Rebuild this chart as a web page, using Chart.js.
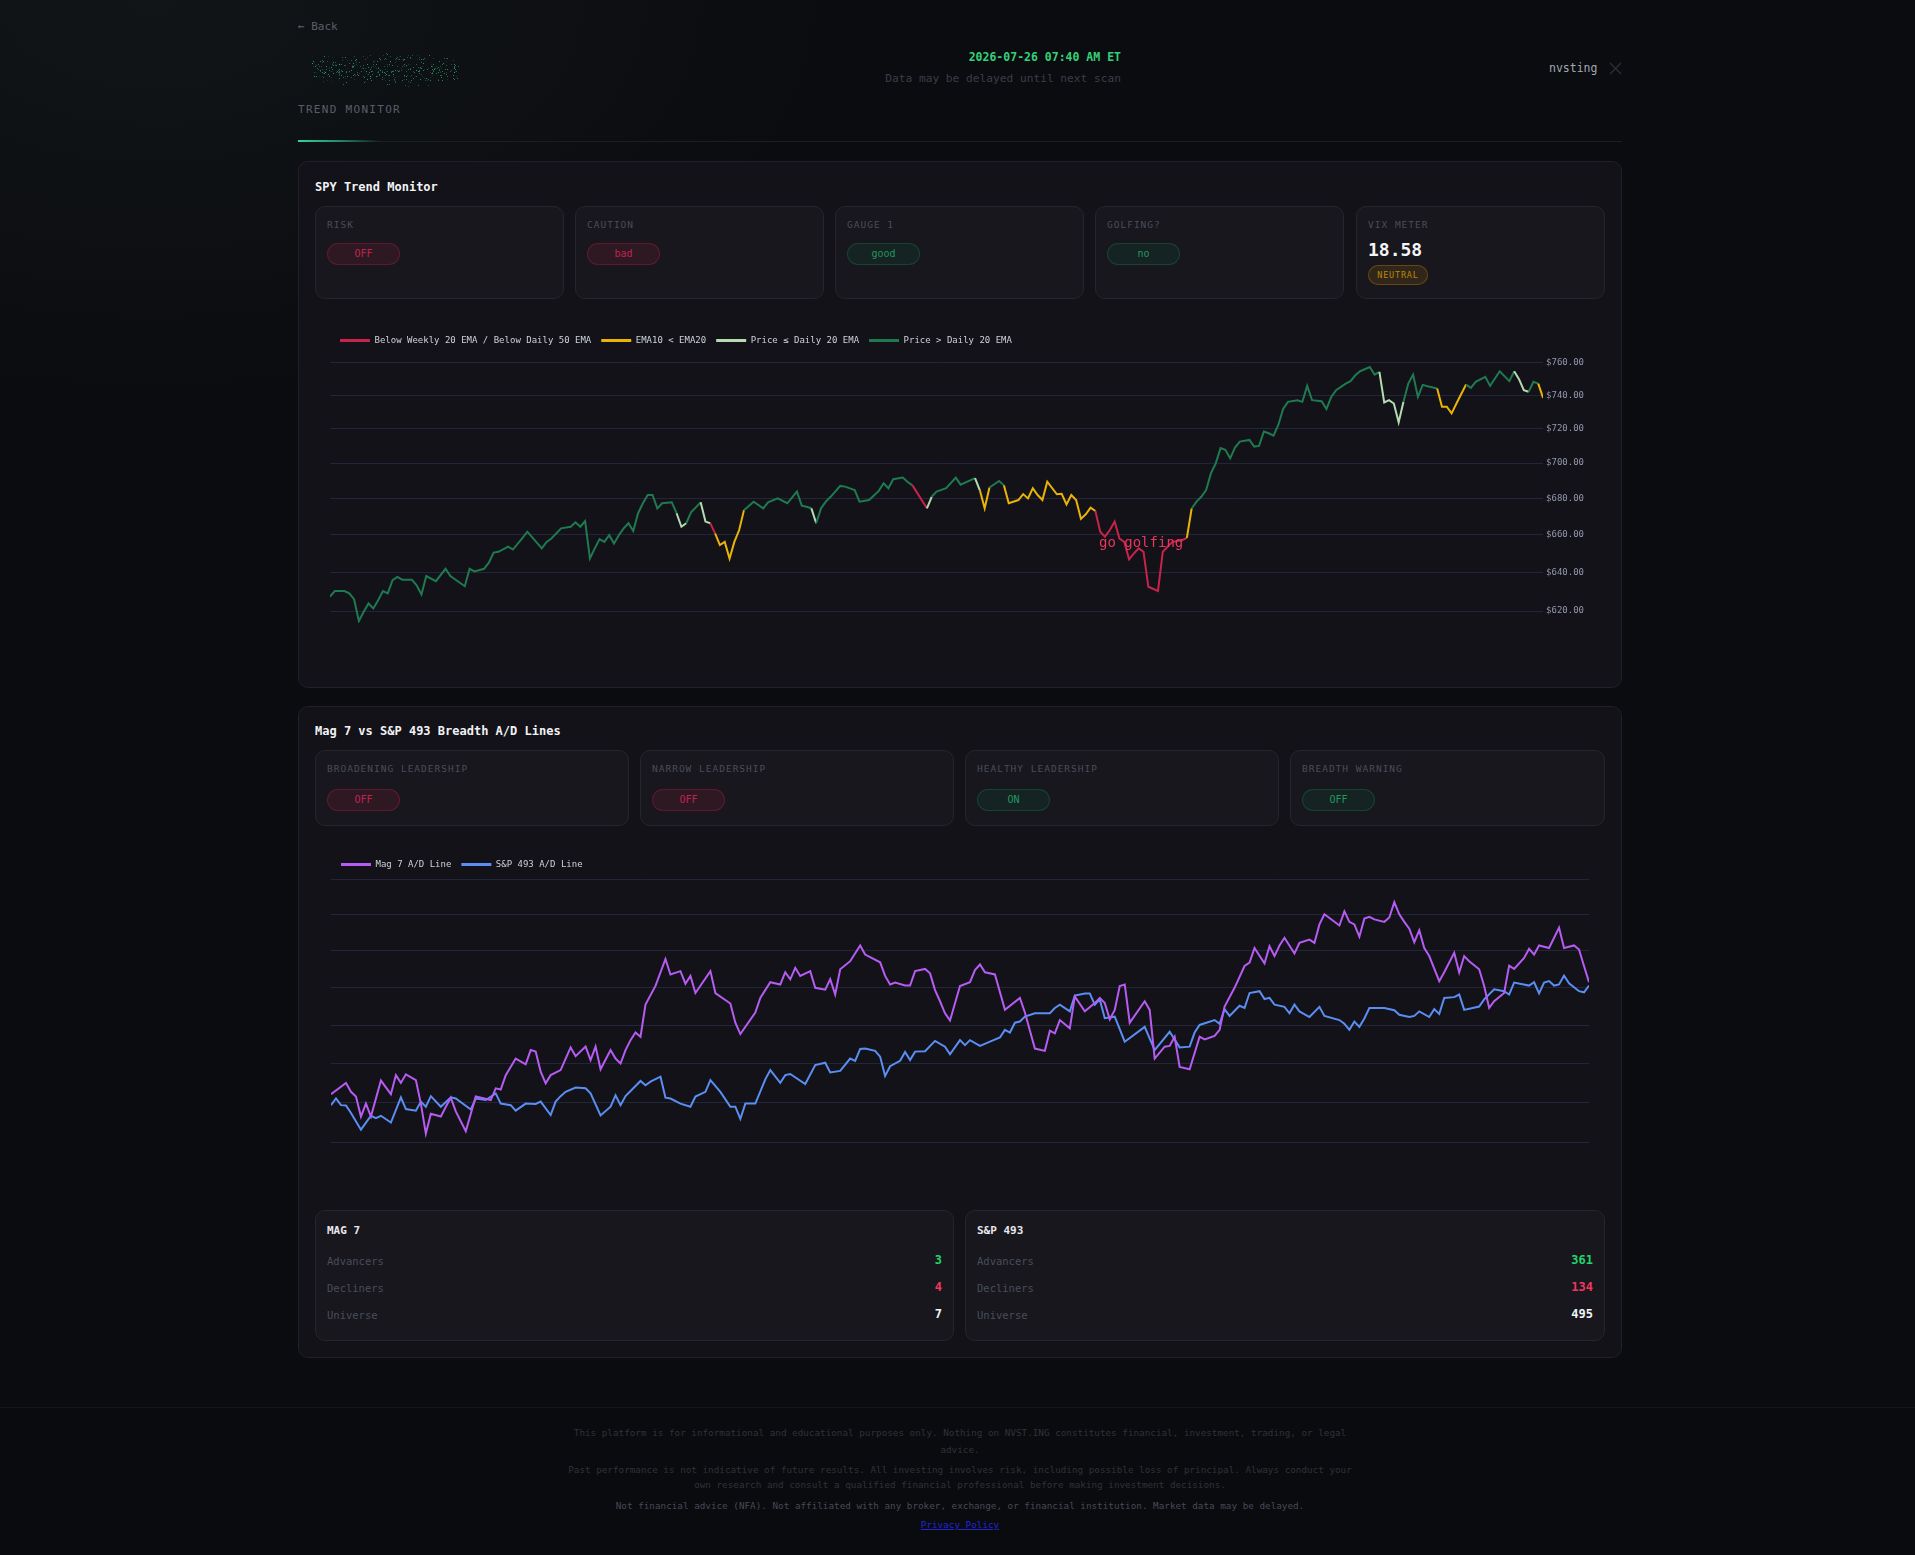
<!DOCTYPE html>
<html lang="en">
<head>
<meta charset="utf-8">
<title>Trend Monitor</title>
<script src="https://cdn.jsdelivr.net/npm/chart.js@4.4.1/dist/chart.umd.min.js"></script>
<style>
  html, body { margin: 0; padding: 0; }
  body {
    width: 1915px; height: 1555px; overflow: hidden; position: relative;
    background: radial-gradient(ellipse 900px 520px at 8% 0%, #111518 0%, #0b0c10 75%);
    background-color: #0b0c10;
    font-family: "DejaVu Sans Mono", monospace;
    color: #d1d5db;
  }
  .abs { position: absolute; white-space: nowrap; }
  .card { position: absolute; box-sizing: border-box; background: #121218; border: 1px solid #1f2029; border-radius: 10px; }
  .tile { position: absolute; box-sizing: border-box; background: #17171d; border: 1px solid #25262d; border-radius: 10px; }
  .lbl { position: absolute; left: 11px; top: 12px; font-size: 9.5px; line-height: 12px; letter-spacing: 1px; color: #4a4d59; white-space: nowrap; }
  .pill { position: absolute; left: 11px; width: 73px; height: 22px; box-sizing: border-box; border-radius: 11px; font-size: 10px; line-height: 20px; text-align: center; }
  .red { background: rgba(200, 30, 70, 0.13); border: 1px solid rgba(200, 30, 70, 0.32); color: #c22452; }
  .green { background: rgba(20, 150, 90, 0.10); border: 1px solid rgba(20, 150, 90, 0.28); color: #1f9a5b; }
  .chartbox { position: absolute; }
  .stat { position: absolute; left: 11px; right: 11px; height: 14px; line-height: 14px; }
  .stat span:first-child { font-size: 10.5px; color: #4a4d59; }
  .stat span:last-child { position: absolute; right: 0; font-size: 12px; font-weight: bold; }
  .foot { position: absolute; left: 0; width: 1920px; text-align: center; font-size: 9.3px; line-height: 12px; color: #2f323b; white-space: nowrap; }
</style>
</head>
<body>

<!-- header -->
<div class="abs" style="left:298px; top:20px; font-size:11px; line-height:14px; color:#5c606b;">← Back</div>
<canvas id="logo" class="abs" width="160" height="46" style="left:305px; top:46px;"></canvas>
<div class="abs" style="left:298px; top:103px; font-size:11px; line-height:14px; letter-spacing:1.3px; color:#5a5e69;">TREND MONITOR</div>
<div class="abs" style="left:298px; top:141px; width:1324px; height:1px; background:#1b1e25;"></div>
<div class="abs" style="left:298px; top:140px; width:82px; height:2px; background:linear-gradient(90deg, #34d399 0%, rgba(52,211,153,0.6) 50%, rgba(52,211,153,0) 100%);"></div>
<div class="abs" style="right:794px; top:50px; font-size:11.5px; line-height:14px; font-weight:bold; color:#33d17a;">2026-07-26 07:40 AM ET</div>
<div class="abs" style="right:794px; top:72px; font-size:11.2px; line-height:14px; color:#3a3e49;">Data may be delayed until next scan</div>
<div class="abs" style="left:1549px; top:61px; font-size:11.5px; line-height:14px; color:#a3a7b2;">nvsting</div>
<svg class="abs" style="left:1609px; top:62px;" width="13" height="13" viewBox="0 0 13 13">
  <path d="M1 1 L12 12 M12 1 L1 12" stroke="#2d3039" stroke-width="1.3" fill="none"/>
</svg>

<!-- SPY trend monitor card -->
<div class="card" style="left:298px; top:161px; width:1324px; height:527px;"></div>
<div class="abs" style="left:315px; top:180px; font-size:12px; line-height:14px; font-weight:bold; color:#f1f2f5;">SPY Trend Monitor</div>

<div class="tile" style="left:315px; top:206px; width:249px; height:93px;">
  <div class="lbl">RISK</div><div class="pill red" style="top:36px;">OFF</div>
</div>
<div class="tile" style="left:575px; top:206px; width:249px; height:93px;">
  <div class="lbl">CAUTION</div><div class="pill red" style="top:36px;">bad</div>
</div>
<div class="tile" style="left:835px; top:206px; width:249px; height:93px;">
  <div class="lbl">GAUGE 1</div><div class="pill green" style="top:36px;">good</div>
</div>
<div class="tile" style="left:1095px; top:206px; width:249px; height:93px;">
  <div class="lbl">GOLFING?</div><div class="pill green" style="top:36px;">no</div>
</div>
<div class="tile" style="left:1356px; top:206px; width:249px; height:93px;">
  <div class="lbl">VIX METER</div>
  <div class="abs" style="left:11px; top:32px; font-size:18px; line-height:22px; font-weight:bold; color:#f5f5f5;">18.58</div>
  <div class="abs" style="left:11px; top:58px; width:60px; height:20px; box-sizing:border-box; border-radius:10px; background:rgba(202,138,4,0.14); border:1px solid rgba(202,138,4,0.35); color:#b8860b; font-size:8.5px; line-height:18px; letter-spacing:0.8px; text-align:center;">NEUTRAL</div>
</div>

<div class="chartbox" style="left:315px; top:326px; width:1290px; height:347px;"><canvas id="spyChart"></canvas></div>

<!-- Breadth card -->
<div class="card" style="left:298px; top:706px; width:1324px; height:652px;"></div>
<div class="abs" style="left:315px; top:724px; font-size:12px; line-height:14px; font-weight:bold; color:#f1f2f5;">Mag 7 vs S&amp;P 493 Breadth A/D Lines</div>

<div class="tile" style="left:315px; top:750px; width:314px; height:76px;">
  <div class="lbl">BROADENING LEADERSHIP</div><div class="pill red" style="top:38px;">OFF</div>
</div>
<div class="tile" style="left:640px; top:750px; width:314px; height:76px;">
  <div class="lbl">NARROW LEADERSHIP</div><div class="pill red" style="top:38px;">OFF</div>
</div>
<div class="tile" style="left:965px; top:750px; width:314px; height:76px;">
  <div class="lbl">HEALTHY LEADERSHIP</div><div class="pill green" style="top:38px;">ON</div>
</div>
<div class="tile" style="left:1290px; top:750px; width:315px; height:76px;">
  <div class="lbl">BREADTH WARNING</div><div class="pill green" style="top:38px;">OFF</div>
</div>

<div class="chartbox" style="left:315px; top:850px; width:1290px; height:332px;"><canvas id="adChart"></canvas></div>

<div class="tile" style="left:315px; top:1210px; width:639px; height:131px;">
  <div class="abs" style="left:11px; top:13px; font-size:11px; line-height:14px; font-weight:bold; color:#e8e9ee;">MAG 7</div>
  <div class="stat" style="top:42px;"><span>Advancers</span><span style="color:#22d36b;">3</span></div>
  <div class="stat" style="top:69px;"><span>Decliners</span><span style="color:#f0365e;">4</span></div>
  <div class="stat" style="top:96px;"><span>Universe</span><span style="color:#f3f4f6;">7</span></div>
</div>
<div class="tile" style="left:965px; top:1210px; width:640px; height:131px;">
  <div class="abs" style="left:11px; top:13px; font-size:11px; line-height:14px; font-weight:bold; color:#e8e9ee;">S&amp;P 493</div>
  <div class="stat" style="top:42px;"><span>Advancers</span><span style="color:#22d36b;">361</span></div>
  <div class="stat" style="top:69px;"><span>Decliners</span><span style="color:#f0365e;">134</span></div>
  <div class="stat" style="top:96px;"><span>Universe</span><span style="color:#f3f4f6;">495</span></div>
</div>

<!-- footer -->
<div class="abs" style="left:0; top:1407px; width:1915px; height:148px; background:#0a0b0e; border-top:1px solid #15171c;"></div>
<div class="foot" style="top:1427px;">This platform is for informational and educational purposes only. Nothing on NVST.ING constitutes financial, investment, trading, or legal</div>
<div class="foot" style="top:1444px;">advice.</div>
<div class="foot" style="top:1464px;">Past performance is not indicative of future results. All investing involves risk, including possible loss of principal. Always conduct your</div>
<div class="foot" style="top:1479px;">own research and consult a qualified financial professional before making investment decisions.</div>
<div class="foot" style="top:1500px; color:#474a55;">Not financial advice (NFA). Not affiliated with any broker, exchange, or financial institution. Market data may be delayed.</div>
<div class="foot" style="top:1519px;"><a href="#" style="color:#2323d8;">Privacy Policy</a></div>

<script>
Chart.defaults.font.family = '"DejaVu Sans Mono", monospace';
Chart.defaults.animation = false;

// ---- SPY: trading day index (last year) and daily close ----
const spyDay = [0, 1, 3, 4, 5, 6, 7, 8, 9, 10, 11, 12, 13, 14, 15, 17, 18, 19, 20, 22, 24, 25, 28, 29, 30, 32, 33, 34, 35, 37, 38, 40, 41, 44, 45, 46, 48, 50, 51, 52, 53, 54, 55, 56, 57, 58, 59, 60, 61, 62, 63, 64, 65, 66, 67, 68, 69, 71, 72, 73, 74, 75, 77, 78, 79, 80, 81, 82, 83, 84, 85, 86, 88, 90, 91, 93, 95, 97, 98, 99, 100, 101, 102, 103, 104, 106, 107, 109, 110, 112, 114, 115, 116, 117, 119, 120, 121, 124, 125, 126, 128, 130, 131, 134, 135, 136, 137, 139, 140, 141, 143, 144, 145, 146, 147, 148, 149, 151, 152, 153, 154, 155, 156, 157, 158, 159, 160, 161, 162, 163, 164, 165, 166, 167, 168, 169, 170, 172, 173, 174, 175, 177, 178, 179, 180, 181, 182, 183, 184, 185, 186, 187, 188, 189, 191, 192, 193, 194, 195, 196, 197, 198, 199, 201, 202, 203, 204, 206, 207, 208, 209, 211, 212, 213, 214, 216, 217, 218, 219, 220, 221, 222, 223, 224, 225, 226, 227, 228, 230, 231, 232, 233, 234, 236, 237, 238, 240, 241, 243, 245, 246, 247, 248, 249, 250, 251, 252];
const spyClose = [627.4, 630.3, 630.3, 629.1, 626.1, 615.0, 619.7, 623.9, 621.4, 625.6, 630.3, 629.1, 635.9, 637.6, 636.2, 636.2, 633.3, 628.5, 638.1, 635.4, 641.9, 638.1, 632.8, 641.9, 640.5, 641.9, 645.1, 650.5, 650.9, 653.7, 652.1, 658.4, 661.7, 652.7, 656.2, 658.0, 663.5, 664.4, 666.8, 664.4, 667.5, 647.3, 652.7, 657.7, 656.2, 659.8, 655.3, 659.8, 663.5, 666.3, 662.1, 671.8, 677.3, 681.9, 681.9, 674.5, 677.3, 677.8, 671.8, 664.4, 666.3, 672.3, 677.8, 667.2, 666.3, 660.8, 654.5, 656.2, 647.3, 656.2, 662.6, 673.5, 678.2, 674.5, 677.8, 680.0, 677.3, 683.8, 676.0, 675.4, 674.5, 666.3, 674.5, 678.2, 680.9, 687.0, 686.6, 684.7, 678.2, 679.1, 684.2, 688.5, 685.7, 690.8, 691.7, 689.2, 687.3, 674.5, 680.9, 683.8, 685.7, 691.7, 687.7, 691.4, 684.5, 674.5, 686.1, 689.8, 687.3, 677.3, 679.1, 682.4, 680.0, 685.7, 681.9, 679.1, 689.4, 682.3, 682.6, 676.7, 681.9, 679.1, 668.7, 671.2, 674.9, 673.0, 661.7, 659.0, 662.6, 667.2, 658.0, 656.2, 646.9, 650.0, 652.7, 650.9, 632.5, 630.3, 650.9, 653.6, 656.2, 657.1, 658.4, 674.4, 678.2, 680.9, 684.7, 694.1, 699.8, 708.6, 707.6, 702.7, 708.9, 712.4, 713.4, 709.5, 709.9, 718.3, 717.3, 715.9, 722.2, 731.7, 736.0, 737.0, 736.0, 745.7, 737.0, 736.4, 731.7, 739.0, 743.1, 747.1, 748.6, 752.2, 754.7, 757.3, 752.6, 754.3, 735.6, 737.0, 735.0, 723.8, 736.0, 747.1, 752.6, 739.0, 746.3, 745.5, 744.1, 733.1, 733.1, 729.1, 735.0, 746.5, 744.5, 748.2, 751.2, 745.7, 754.7, 748.6, 754.7, 749.8, 743.1, 742.1, 748.2, 747.1, 738.4];

// regime changes: from this trading day on, the line takes this regime
// G = price > daily 20 EMA, P = price <= daily 20 EMA, Y = EMA10 < EMA20, R = below weekly 20 / daily 50
const regimeFrom = [73, 75, 78, 80, 81, 88, 101, 102, 124, 125, 126, 135, 136, 139, 141, 160, 179, 180, 219, 224, 231, 237, 247, 250, 252];
const regimeCode = ['P', 'G', 'P', 'R', 'Y', 'G', 'P', 'G', 'R', 'P', 'G', 'P', 'Y', 'G', 'Y', 'R', 'Y', 'G', 'P', 'G', 'Y', 'G', 'P', 'G', 'Y'];
const regimeOrder = ['R', 'Y', 'P', 'G'];
const regimeLabels = ['Below Weekly 20 EMA / Below Daily 50 EMA', 'EMA10 < EMA20', 'Price ≤ Daily 20 EMA', 'Price > Daily 20 EMA'];
const spyTicks = [620, 640, 660, 680, 700, 720, 740, 760];

// ---- breadth A/D lines ----
const magDay = [0, 3, 4, 5, 6, 7, 8, 10, 12, 13, 14, 15, 17, 18, 19, 20, 22, 23, 24, 25, 27, 29, 32, 33, 34, 35, 37, 39, 40, 41, 42, 43, 44, 46, 48, 49, 51, 52, 53, 54, 56, 57, 58, 59, 60, 61, 62, 63, 65, 67, 68, 70, 71, 72, 73, 76, 77, 80, 81, 82, 85, 86, 88, 90, 91, 92, 93, 94, 96, 97, 99, 100, 101, 102, 104, 106, 107, 110, 111, 112, 113, 115, 116, 117, 119, 120, 121, 122, 123, 124, 126, 128, 129, 130, 131, 133, 135, 138, 139, 141, 143, 144, 145, 146, 148, 149, 151, 153, 154, 155, 156, 157, 158, 159, 160, 163, 164, 165, 167, 168, 169, 170, 172, 174, 175, 177, 178, 179, 181, 183, 184, 185, 186, 187, 188, 189, 190, 191, 193, 194, 196, 197, 198, 199, 202, 203, 204, 205, 206, 207, 208, 209, 211, 212, 213, 214, 215, 216, 217, 218, 219, 220, 222, 223, 225, 226, 227, 228, 230, 231, 232, 233, 235, 236, 237, 239, 240, 241, 242, 244, 246, 247, 249, 250, 251, 252];
const magAD = [552.1, 555.0, 552.7, 551.5, 546.4, 549.7, 546.4, 555.6, 552.1, 557.0, 555.0, 557.2, 555.7, 549.7, 542.1, 547.1, 546.4, 548.9, 551.2, 547.7, 542.7, 551.5, 550.6, 553.6, 553.3, 557.0, 561.3, 559.8, 563.5, 563.1, 557.9, 554.9, 557.0, 558.3, 564.2, 561.9, 564.4, 560.9, 564.4, 558.5, 563.5, 561.3, 560.0, 563.5, 566.1, 568.1, 567.0, 575.5, 580.5, 587.8, 583.6, 584.5, 581.1, 583.2, 578.6, 584.5, 578.6, 575.8, 570.7, 567.7, 573.4, 577.3, 581.5, 580.9, 584.2, 582.3, 585.4, 583.2, 584.5, 580.0, 579.5, 582.3, 578.2, 585.0, 587.2, 591.5, 589.0, 586.9, 583.2, 580.9, 581.4, 580.6, 580.6, 584.5, 585.1, 583.9, 579.4, 576.4, 573.2, 571.3, 580.5, 581.5, 584.8, 586.3, 584.2, 583.6, 574.1, 577.3, 573.4, 563.9, 563.3, 568.6, 567.9, 571.4, 569.2, 577.7, 573.7, 575.9, 577.3, 575.9, 571.6, 574.1, 580.5, 580.9, 570.7, 576.4, 574.1, 561.3, 564.4, 564.6, 567.0, 559.1, 558.5, 567.0, 566.3, 567.2, 568.8, 575.0, 580.0, 585.9, 586.8, 590.8, 588.7, 586.6, 591.3, 588.6, 591.5, 593.6, 589.3, 592.2, 593.1, 592.2, 597.3, 600.1, 597.0, 600.9, 598.0, 597.3, 593.9, 598.9, 599.4, 598.7, 598.0, 599.2, 603.5, 600.1, 598.0, 596.1, 592.4, 595.7, 590.8, 588.6, 581.8, 584.2, 589.5, 584.1, 588.6, 587.2, 585.0, 580.5, 574.6, 576.4, 578.6, 586.0, 585.1, 588.1, 590.6, 589.0, 591.5, 590.8, 596.4, 590.8, 591.5, 590.4, 585.9, 581.5];
const spxDay = [0, 1, 2, 3, 4, 6, 8, 9, 10, 12, 14, 15, 17, 18, 19, 20, 22, 24, 25, 28, 29, 31, 33, 34, 36, 37, 39, 41, 42, 44, 45, 46, 47, 49, 51, 52, 54, 56, 57, 58, 59, 62, 63, 64, 66, 67, 68, 70, 72, 73, 75, 76, 78, 80, 81, 82, 83, 85, 87, 88, 90, 91, 92, 95, 97, 99, 100, 102, 104, 105, 106, 107, 109, 110, 111, 112, 114, 115, 116, 117, 119, 121, 123, 124, 126, 127, 128, 130, 132, 134, 135, 136, 137, 138, 139, 141, 142, 144, 145, 146, 148, 149, 151, 152, 153, 154, 155, 157, 159, 163, 165, 168, 170, 172, 173, 174, 177, 178, 179, 180, 182, 183, 184, 186, 187, 188, 189, 191, 192, 193, 194, 196, 198, 199, 202, 203, 204, 205, 206, 207, 208, 211, 213, 214, 216, 217, 218, 220, 221, 222, 223, 225, 226, 227, 230, 231, 233, 235, 236, 237, 240, 241, 242, 243, 244, 245, 246, 247, 248, 250, 251, 252];
const spxAD = [549.3, 551.0, 549.3, 549.2, 547.3, 543.1, 546.6, 546.0, 546.6, 544.9, 551.3, 548.3, 547.9, 550.2, 548.9, 551.6, 548.9, 551.3, 551.0, 548.2, 551.0, 550.6, 552.3, 549.7, 549.3, 547.9, 549.7, 549.6, 550.2, 546.8, 550.2, 551.6, 552.7, 553.8, 553.6, 552.3, 546.7, 548.9, 551.8, 549.3, 551.6, 555.5, 554.4, 555.3, 556.6, 551.2, 551.0, 549.7, 548.9, 551.5, 552.7, 555.7, 552.7, 548.9, 548.9, 545.8, 549.7, 549.7, 555.9, 558.3, 555.0, 557.0, 557.3, 554.7, 559.6, 560.2, 557.7, 558.1, 561.3, 560.7, 563.8, 563.9, 563.3, 561.8, 556.8, 559.3, 560.7, 563.0, 560.9, 563.1, 563.2, 565.9, 564.4, 562.4, 566.1, 564.8, 566.1, 564.6, 565.7, 566.8, 568.8, 568.1, 570.7, 571.0, 572.3, 573.2, 573.2, 573.2, 574.6, 575.5, 573.7, 577.9, 578.5, 578.5, 575.5, 576.9, 571.9, 572.3, 565.7, 569.6, 563.5, 568.3, 564.2, 564.4, 568.1, 570.1, 571.4, 570.4, 574.3, 572.5, 575.2, 574.6, 578.6, 579.1, 577.0, 577.3, 575.5, 574.9, 573.2, 575.5, 573.7, 572.2, 574.9, 572.5, 571.4, 570.4, 568.8, 571.0, 569.6, 571.8, 574.6, 574.6, 574.0, 572.8, 572.2, 572.5, 573.7, 572.2, 574.3, 573.0, 577.3, 577.5, 578.2, 574.1, 575.0, 576.9, 579.6, 579.1, 578.2, 581.4, 580.6, 581.5, 578.5, 581.4, 581.8, 580.6, 580.9, 583.3, 581.2, 579.1, 578.8, 580.6];
const adTicks = [540, 550, 560, 570, 580, 590, 600, 610];

const regimeColor = { R: '#c8234b', Y: '#eab308', P: '#b4dcb0', G: '#1f7a50' };
const gridColor = '#23263a';
const legendText = '#cfd2da';

const regimeAt = (day) => {
  let code = 'G';
  regimeFrom.forEach((d, i) => { if (day >= d) code = regimeCode[i]; });
  return code;
};

// "go golfing" note sits in the red stretch
const golfNote = { day: 168.5, price: 655.6, text: 'go golfing' };
const golfPlugin = {
  id: 'golfNote',
  afterDatasetsDraw(chart) {
    const { ctx, scales } = chart;
    ctx.save();
    ctx.font = '14px "DejaVu Sans Mono", monospace';
    ctx.fillStyle = '#e8365c';
    ctx.textAlign = 'center';
    ctx.textBaseline = 'middle';
    ctx.fillText(golfNote.text, scales.x.getPixelForValue(golfNote.day), scales.y.getPixelForValue(golfNote.price));
    ctx.restore();
  }
};

const spyChart = new Chart(document.getElementById('spyChart'), {
  type: 'line',
  data: {
    datasets: [{
      label: 'SPY',
      data: spyDay.map((d, i) => ({ x: d, y: spyClose[i] })),
      borderColor: regimeColor.G,
      borderWidth: 2,
      pointRadius: 0,
      tension: 0,
      segment: { borderColor: (c) => regimeColor[regimeAt(spyDay[c.p1DataIndex])] }
    }]
  },
  options: {
    responsive: true,
    maintainAspectRatio: false,
    animation: false,
    layout: { padding: { left: 15, right: 18, top: 0, bottom: 50 } },
    plugins: {
      tooltip: { enabled: false },
      legend: {
        position: 'top',
        align: 'start',
        labels: {
          boxWidth: 30,
          boxHeight: 3,
          padding: 10,
          color: legendText,
          font: { size: 9 },
          generateLabels: () => regimeOrder.map((k, i) => ({
            text: regimeLabels[i],
            fillStyle: regimeColor[k],
            strokeStyle: regimeColor[k],
            fontColor: legendText,
            lineWidth: 0,
            hidden: false,
            datasetIndex: 0
          }))
        }
      }
    },
    scales: {
      x: { type: 'linear', min: 0, max: 252, display: false },
      y: {
        type: 'logarithmic',
        position: 'right',
        min: 614,
        max: 764.8,
        afterBuildTicks: (s) => { s.ticks = spyTicks.map((v) => ({ value: v })); },
        grid: { color: gridColor, drawTicks: false },
        border: { display: false },
        ticks: {
          color: '#9497ad',
          font: { size: 9 },
          padding: 3,
          autoSkip: false,
          callback: (v) => '$' + Number(v).toFixed(2)
        }
      }
    }
  },
  plugins: [golfPlugin]
});

const adChart = new Chart(document.getElementById('adChart'), {
  type: 'line',
  data: {
    datasets: [
      {
        label: 'Mag 7 A/D Line',
        data: magDay.map((d, i) => ({ x: d, y: magAD[i] })),
        borderColor: '#b65cf2',
        borderWidth: 2,
        pointRadius: 0,
        tension: 0
      },
      {
        label: 'S&P 493 A/D Line',
        data: spxDay.map((d, i) => ({ x: d, y: spxAD[i] })),
        borderColor: '#5b8ef2',
        borderWidth: 2,
        pointRadius: 0,
        tension: 0
      }
    ]
  },
  options: {
    responsive: true,
    maintainAspectRatio: false,
    animation: false,
    layout: { padding: { left: 16, right: 16, top: 0, bottom: 40 } },
    plugins: {
      tooltip: { enabled: false },
      legend: {
        position: 'top',
        align: 'start',
        labels: {
          boxWidth: 30,
          boxHeight: 3,
          padding: 10,
          color: legendText,
          font: { size: 9 },
          generateLabels: (chart) => chart.data.datasets.map((ds, i) => ({
            text: ds.label,
            fillStyle: ds.borderColor,
            strokeStyle: ds.borderColor,
            fontColor: legendText,
            lineWidth: 0,
            hidden: false,
            datasetIndex: i
          }))
        }
      }
    },
    scales: {
      x: { type: 'linear', min: 0, max: 252, display: false },
      y: {
        type: 'logarithmic',
        min: 540,
        max: 610,
        afterBuildTicks: (s) => { s.ticks = adTicks.map((v) => ({ value: v })); },
        grid: { color: gridColor, drawTicks: false },
        border: { display: false },
        ticks: { display: false }
      }
    }
  }
});

// speckled logo mark (decoration)
const logo = document.getElementById('logo').getContext('2d');
for (let i = 0; i < 420; i++) {
  const h1 = Math.abs(Math.sin(i * 12.9898) * 43758.5453) % 1;
  const h2 = Math.abs(Math.sin(i * 78.233) * 12345.6789) % 1;
  const h3 = Math.abs(Math.sin(i * 39.425) * 24634.6345) % 1;
  const h4 = Math.abs(Math.sin(i * 5.171) * 9871.113) % 1;
  const px = 7 + h1 * 146;
  const py = 23 + (h2 + h3 - 1) * 21 * (1 - 0.4 * Math.abs(px - 80) / 80);
  logo.fillStyle = 'rgba(52, 200, 130, ' + (0.12 + h4 * 0.55).toFixed(2) + ')';
  logo.fillRect(Math.round(px), Math.round(py), 1, 1);
}
</script>
</body>
</html>
